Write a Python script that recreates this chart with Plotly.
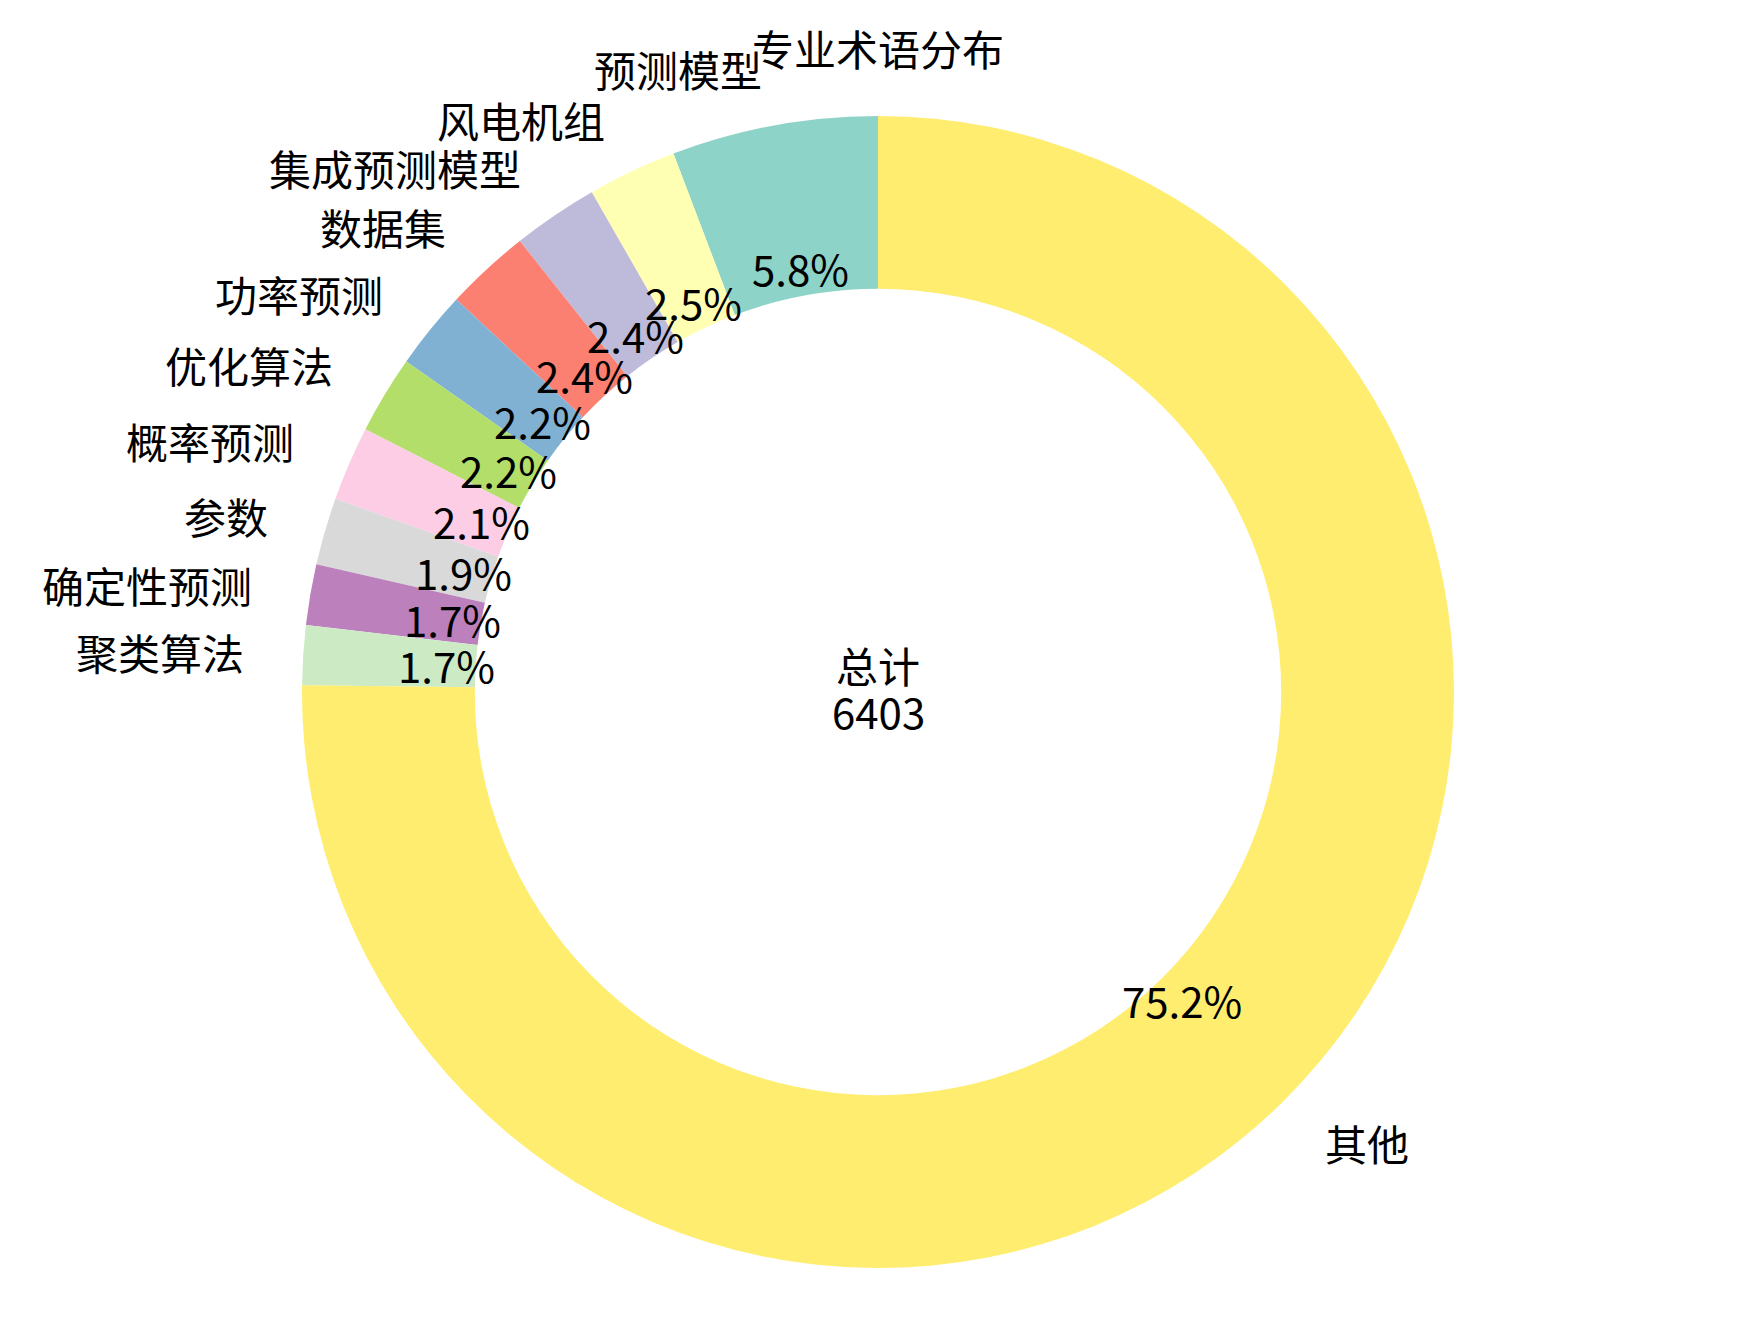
import numpy as np
import plotly.graph_objects as go

# figure size (pixels)
W, H = 1756, 1326

# data
labels = ['预测模型', '风电机组', '集成预测模型', '数据集', '功率预测', '优化算法',
          '概率预测', '参数', '确定性预测', '聚类算法', '其他']
counts = [370, 160, 154, 153, 141, 140, 134, 121, 109, 107, 4814]
colors = ['#8dd3c7', '#ffffb3', '#bebada', '#fb8072', '#80b1d3', '#b3de69',
          '#fccde5', '#d9d9d9', '#bc80bd', '#ccebc5', '#ffed6f']
title_text = '专业术语分布'
center_label = '总计'

total = sum(counts)

# donut geometry in pixels: centre and outer radius
cx, cy, r = 870, 684, 576
font = 'Noto Sans CJK SC, Noto Sans, sans-serif'
fs = 42

frac = np.array(counts) / total

fig = go.Figure(go.Pie(
    labels=labels,
    values=counts,
    sort=False,
    direction='counterclockwise',
    # plotly puts the first ccw slice right of 12 o'clock; shift it left
    rotation=-360 * frac[0],
    hole=0.7,
    marker=dict(colors=colors, line=dict(width=0)),
    textinfo='none',
    showlegend=False,
    domain=dict(x=[(cx - r) / W, (cx + r) / W],
                y=[(H - cy - r) / H, (H - cy + r) / H])))

# label positions, matplotlib style (start at top, counterclockwise)
mid = np.cumsum(frac) - frac / 2
ang = np.deg2rad(90 + 360 * mid)


def to_paper(dist, a):
    return (cx + dist * r * np.cos(a)) / W, (H - cy + dist * r * np.sin(a)) / H


for lab, f, a in zip(labels, frac, ang):
    px, py = to_paper(0.75, a)
    fig.add_annotation(x=px, y=py, xref='paper', yref='paper',
                       text=f'{f * 100:.1f}%', showarrow=False,
                       xanchor='center', yanchor='middle',
                       font=dict(family=font, size=fs, color='black'))
    lx, ly = to_paper(1.1, a)
    fig.add_annotation(x=lx, y=ly, xref='paper', yref='paper',
                       text=lab, showarrow=False,
                       xanchor='left' if np.cos(a) > 0 else 'right',
                       yanchor='middle',
                       font=dict(family=font, size=fs, color='black'))

# centre text, two lines
for txt, dy in [(center_label, 28), (str(total), -18)]:
    fig.add_annotation(x=cx / W, y=(H - cy + dy) / H, xref='paper', yref='paper',
                       text=txt, showarrow=False,
                       xanchor='center', yanchor='middle',
                       font=dict(family=font, size=fs, color='black'))

fig.update_layout(
    width=W, height=H,
    autosize=False,
    margin=dict(l=0, r=0, t=0, b=0),
    paper_bgcolor='white',
    plot_bgcolor='white',
    title=dict(text=title_text, x=cx / W, y=1 - 43 / H,
               xanchor='center', yanchor='middle',
               font=dict(family=font, size=fs, color='black')),
)

fig.write_html("out.html")
